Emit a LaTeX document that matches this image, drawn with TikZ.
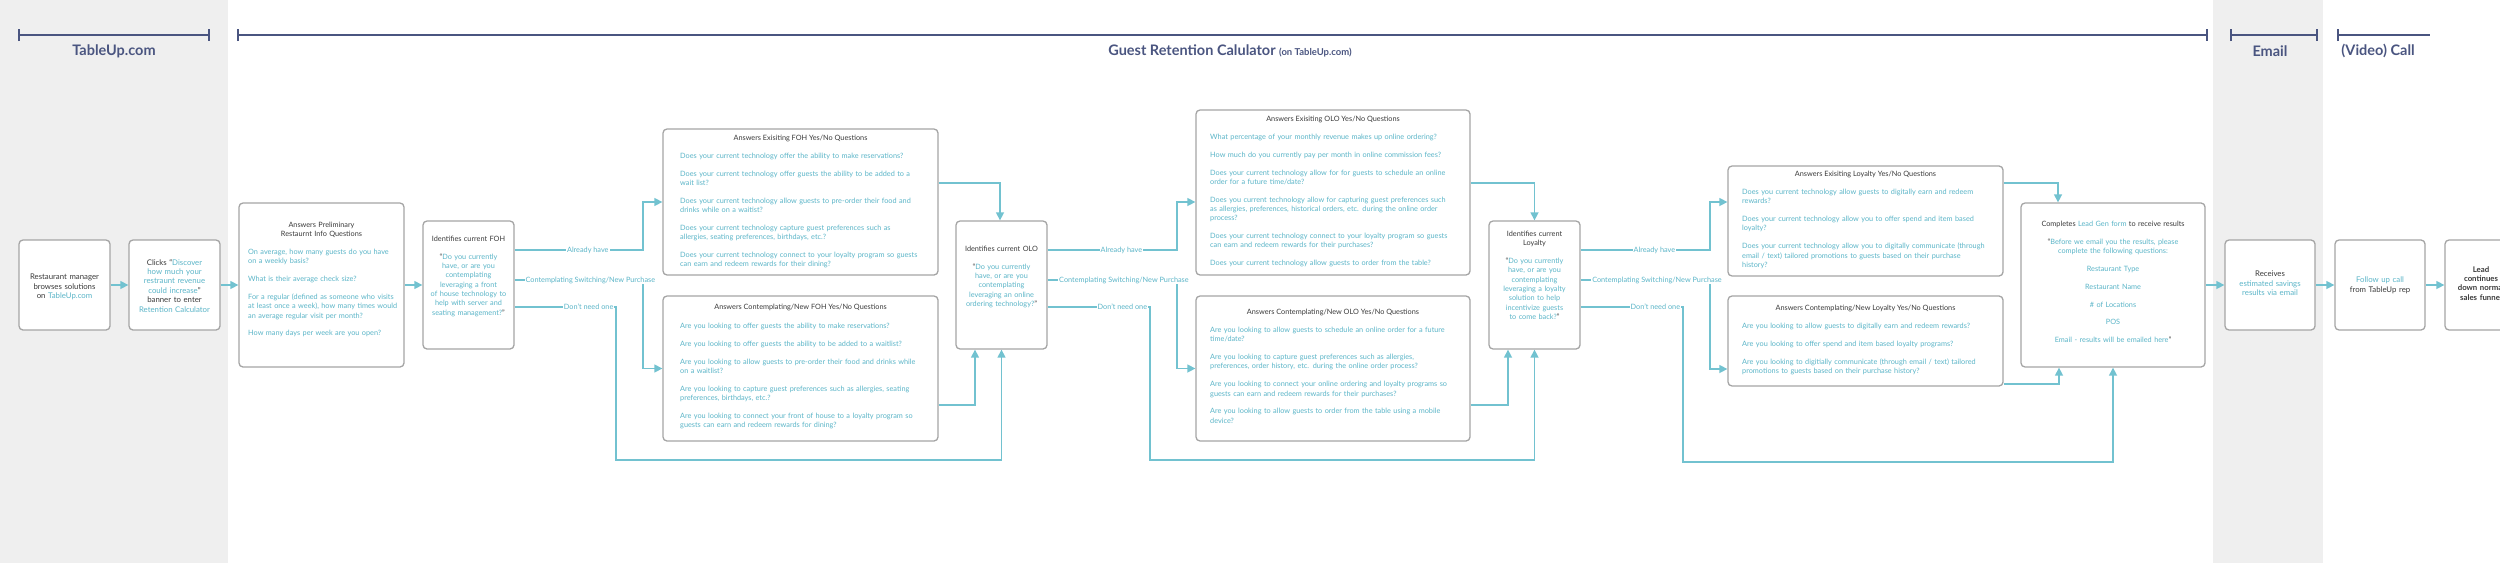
\documentclass[tikz,border=0pt]{standalone}
\usepackage{fontspec}
\setmainfont{Lato}
\usetikzlibrary{arrows.meta,calc}
\lefthyphenmin=62
\righthyphenmin=62
\definecolor{tblue}{HTML}{5BB5C8}
\definecolor{lblue}{HTML}{72C2D0}
\definecolor{bgray}{HTML}{A5A5A5}
\definecolor{dark}{HTML}{3A3A3A}
\definecolor{navy}{HTML}{4A5580}
\definecolor{bgband}{HTML}{EFEFEF}
\newcommand{\qs}{\fontsize{7.3}{9.3}\selectfont}
\newcommand{\pp}{\\[8.5pt]}
\tikzset{
  box/.style={draw=bgray, line width=1.3pt, rounded corners=4pt, fill=white, inner sep=0pt},
  ttl/.style={text=dark, font=\qs, align=center, anchor=north, inner sep=0pt},
  qtext/.style={text=tblue, font=\qs, align=left, anchor=north west, inner sep=0pt},
  ctext/.style={text=dark, font=\qs, align=center, anchor=north, inner sep=0pt},
  conn/.style={draw=lblue, line width=1.4pt, -{Triangle[length=8pt,width=8pt]}},
  lab/.style={fill=white, text=tblue, font=\qs, inner sep=1pt},
  hdr/.style={draw=navy, line width=1.6pt, {Bar[width=12pt]}-{Bar[width=12pt]}},
  hlab/.style={text=navy, font=\bfseries\fontsize{14.5}{16}\selectfont},
}
\begin{document}
\begin{tikzpicture}[x=1pt,y=1pt]
\useasboundingbox (0,0) rectangle (2500,-563);
\fill[bgband] (0,0) rectangle (228,-563);
\fill[bgband] (2213,0) rectangle (2323,-563);
% headers
\draw[hdr] (18,-35) -- (210,-35);
\draw[hdr] (237,-35) -- (2208,-35);
\draw[hdr] (2230,-35) -- (2318,-35);
\draw[draw=navy, line width=1.6pt, {Bar[width=12pt]}-] (2337,-35) -- (2430,-35);
\node[hlab] (h1) at (114,-51) {TableUp.com};
\node[hlab] (h2) at (1230,-51) {Guest Retention Calulator {\fontsize{9.5}{11}\selectfont(on TableUp.com)}};
\node[hlab] (h3) at (2270,-51) {Email};
\node[hlab] (h4) at (2378,-51) {(Video) Call};

% main boxes
\node[box, minimum width=91pt, minimum height=90pt] (n1) at (64.5,-285) {};
\node[ctext, text width=88pt, font=\fontsize{7.8}{9.4}\selectfont] at (64.5,-274) {Restaurant manager browses solutions on \textcolor{tblue}{TableUp.com}};
\node[box, minimum width=91pt, minimum height=90pt] (n2) at (174.5,-285) {};
\node[ctext, text width=72pt, font=\fontsize{7.8}{9.4}\selectfont] at (174.5,-259) {Clicks ``\textcolor{tblue}{Discover how much your restraunt revenue could increase}'' banner to enter \textcolor{tblue}{Retention Calculator}};

\node[box, minimum width=165pt, minimum height=164pt] (n3) at (321.5,-285) {};
\node[ttl, text width=120pt] at (321.5,-222) {Answers Preliminary Restaurnt Info Questions};
\node[qtext, text width=150pt] at (248,-249) {On average, how many guests do you have on a weekly basis?\pp What is their average check size?\pp For a regular (defined as someone who visits at least once a week), how many times would an average regular visit per month?\pp How many days per week are you open?};

\node[box, minimum width=91pt, minimum height=128pt] (n4) at (468.5,-285) {};
\node[ctext, text width=78pt] at (468.5,-236) {Identifies current FOH\pp ``\textcolor{tblue}{Do you currently have, or are you contemplating leveraging a front of house technology to help with server and seating management?}''};

\node[box, minimum width=275pt, minimum height=146pt] (n5) at (800.5,-202) {};
\node[ttl] at (800.5,-135) {Answers Exisiting FOH Yes/No Questions};
\node[qtext, text width=240pt] at (680,-153) {Does your current technology offer the ability to make reservations?\pp Does your current technology offer guests the ability to be added to a wait list?\pp Does your current technology allow guests to pre-order their food and drinks while on a waitist?\pp Does your current technology capture guest preferences such as allergies, seating preferences, birthdays, etc.?\pp Does your current technology connect to your loyalty program so guests can earn and redeem rewards for their dining?};

\node[box, minimum width=275pt, minimum height=145pt] (n6) at (800.5,-368.5) {};
\node[ttl] at (800.5,-304) {Answers Contemplating/New FOH Yes/No Questions};
\node[qtext, text width=245pt] at (680,-323) {Are you looking to offer guests the ability to make reservations?\pp Are you looking to offer guests the ability to be added to a waitlist?\pp Are you looking to allow guests to pre-order their food and drinks while on a waitlist?\pp Are you looking to capture guest preferences such as allergies, seating preferences, birthdays, etc.?\pp Are you looking to connect your front of house to a loyalty program so guests can earn and redeem rewards for dining?};

\node[box, minimum width=91pt, minimum height=128pt] (n7) at (1001.5,-285) {};
\node[ctext, text width=78pt] at (1001.5,-246) {Identifies current OLO\pp ``\textcolor{tblue}{Do you currently have, or are you contemplating leveraging an online ordering technology?}''};

\node[box, minimum width=274pt, minimum height=165pt] (n8) at (1333,-192.5) {};
\node[ttl] at (1333,-116) {Answers Exisiting OLO Yes/No Questions};
\node[qtext, text width=245pt] at (1210,-134) {What percentage of your monthly revenue makes up online ordering?\pp How much do you currently pay per month in online commission fees?\pp Does your current technology allow for for guests to schedule an online order for a future time/date?\pp Does you current technology allow for capturing guest preferences such as allergies, preferences, historical orders, etc. during the online order process?\pp Does your current technology connect to your loyalty program so guests can earn and redeem rewards for their purchases?\pp Does your current technology allow guests to order from the table?};

\node[box, minimum width=274pt, minimum height=145pt] (n9) at (1333,-368.5) {};
\node[ttl] at (1333,-309) {Answers Contemplating/New OLO Yes/No Questions};
\node[qtext, text width=245pt] at (1210,-327) {Are you looking to allow guests to schedule an online order for a future time/date?\pp Are you looking to capture guest preferences such as allergies, preferences, order history, etc. during the online order process?\pp Are you looking to connect your online ordering and loyalty programs so guests can earn and redeem rewards for their purchases?\pp Are you looking to allow guests to order from the table using a mobile device?};

\node[box, minimum width=91pt, minimum height=128pt] (n10) at (1534.5,-285) {};
\node[ctext, text width=78pt] at (1534.5,-231) {Identifies current\\Loyalty\pp ``\textcolor{tblue}{Do you currently have, or are you contemplating leveraging a loyalty solution to help incentivize guests to come back?}''};

\node[box, minimum width=275pt, minimum height=110pt] (n11) at (1865.5,-221) {};
\node[ttl] at (1865.5,-171) {Answers Exisiting Loyalty Yes/No Questions};
\node[qtext, text width=245pt] at (1742,-189) {Does you current technology allow guests to digitally earn and redeem rewards?\pp Does your current technology allow you to offer spend and item based loyalty?\pp Does your current technology allow you to digitally communicate (through email / text) tailored promotions to guests based on their purchase history?};

\node[box, minimum width=275pt, minimum height=90pt] (n12) at (1865.5,-341) {};
\node[ttl] at (1865.5,-305) {Answers Contemplating/New Loyalty Yes/No Questions};
\node[qtext, text width=245pt] at (1742,-323) {Are you looking to allow guests to digitally earn and redeem rewards?\pp Are you looking to offer spend and item based loyalty programs?\pp Are you looking to digitially communicate (through email / text) tailored promotions to guests based on their purchase history?};

\node[box, minimum width=184pt, minimum height=164pt] (n13) at (2113,-285) {};
\node[ctext, text width=180pt] at (2113,-221) {Completes \textcolor{tblue}{Lead Gen form} to receive results\pp ``\textcolor{tblue}{Before we email you the results, please\\ complete the following questions:\pp Restaurant Type\pp Restaurant Name\pp \# of Locations\pp POS\pp Email - results will be emailed here}''};

\node[box, minimum width=90pt, minimum height=90pt] (n14) at (2270,-285) {};
\node[ctext, text width=66pt, font=\fontsize{7.8}{9.4}\selectfont] at (2270,-271) {Receives \textcolor{tblue}{estimated savings results via email}};
\node[box, minimum width=90pt, minimum height=90pt] (n15) at (2380,-285) {};
\node[ctext, text width=80pt, font=\fontsize{7.8}{9.4}\selectfont] at (2380,-277) {\textcolor{tblue}{Follow up call}\\from TableUp rep};
\node[box, minimum width=72pt, minimum height=90pt] (n16) at (2481,-285) {};
\node[ctext, text width=70pt, font=\bfseries\fontsize{7.8}{9.4}\selectfont] at (2481,-266) {Lead\\continues\\down normal\\sales funnel};

% main flow
\draw[conn] (n1) -- (n2);
\draw[conn] (n2) -- (n3);
\draw[conn] (n3) -- (n4);
\draw[conn] (n13) -- (n14);
\draw[conn] (n14) -- (n15);
\draw[conn] (n15) -- (n16);

% FOH branches
\draw[conn] ([yshift=35pt]n4.east) -- node[lab,pos=.57]{Already have} (643,-250) |- (n5.west);
\draw[conn] ([yshift=5pt]n4.east) -- node[lab,pos=.59]{Contemplating Switching/New Purchase} (643,-280) |- (n6.west);
\draw[conn] ([yshift=-22pt]n4.east) -- node[lab,pos=.73]{Don't need one} (616,-307) -- (616,-460) -| (n7.south);
\draw[conn] ([yshift=19pt]n5.east) -| ([xshift=-1.5pt]n7.north);
\draw[conn] ([yshift=-36.5pt]n6.east) -| ([xshift=-26.5pt]n7.south);

% OLO branches
\draw[conn] ([yshift=35pt]n7.east) -- node[lab,pos=.57]{Already have} (1177,-250) |- ([yshift=-9.5pt]n8.west);
\draw[conn] ([yshift=5pt]n7.east) -- node[lab,pos=.59]{Contemplating Switching/New Purchase} (1177,-280) |- (n9.west);
\draw[conn] ([yshift=-22pt]n7.east) -- node[lab,pos=.73]{Don't need one} (1150,-307) -- (1150,-460) -| (n10.south);
\draw[conn] ([yshift=9.5pt]n8.east) -| (n10.north);
\draw[conn] ([yshift=-36.5pt]n9.east) -| ([xshift=-26.5pt]n10.south);

% Loyalty branches
\draw[conn] ([yshift=35pt]n10.east) -- node[lab,pos=.57]{Already have} (1710,-250) |- ([yshift=19pt]n11.west);
\draw[conn] ([yshift=5pt]n10.east) -- node[lab,pos=.59]{Contemplating Switching/New Purchase} (1710,-280) |- ([yshift=-28pt]n12.west);
\draw[conn] ([yshift=-22pt]n10.east) -- node[lab,pos=.73]{Don't need one} (1683,-307) -- (1683,-462) -| (n13.south);
\draw[conn] ([yshift=38pt]n11.east) -| ([xshift=-55pt]n13.north);
\draw[conn] ([yshift=-43pt]n12.east) -| ([xshift=-54pt]n13.south);
\end{tikzpicture}
\end{document}
